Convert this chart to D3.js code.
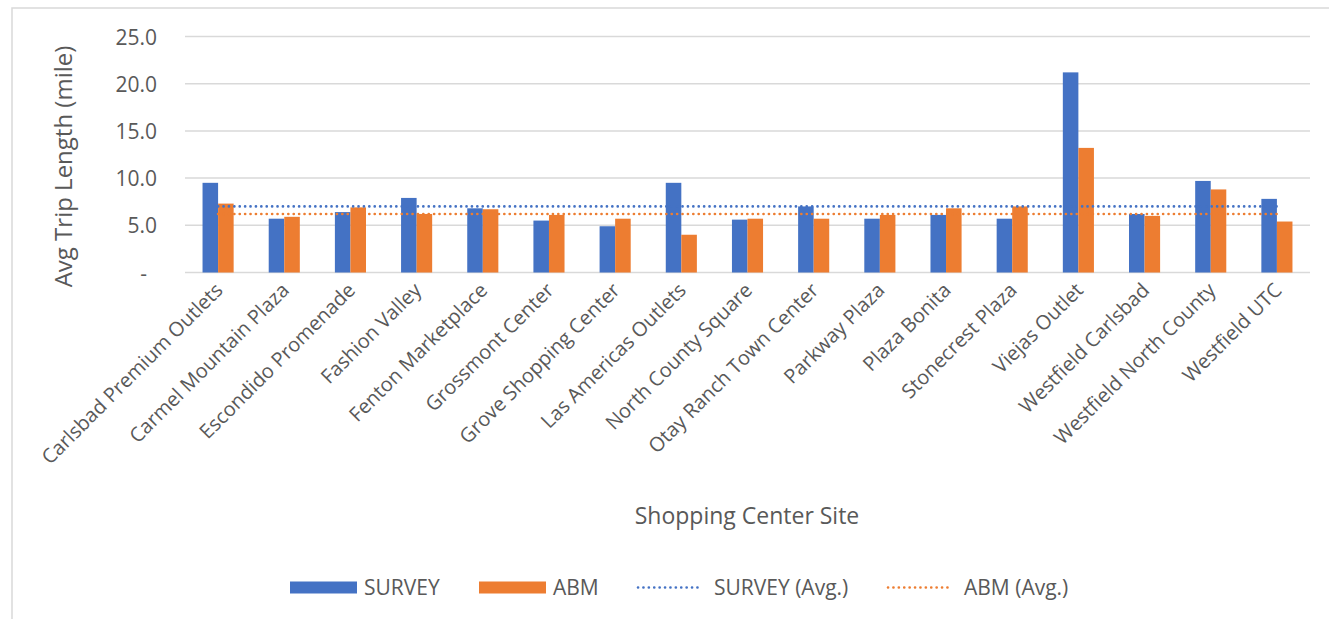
<!DOCTYPE html>
<meta charset="utf-8">
<head>
<style>
  body { margin: 0; background: #fff; }
  svg, svg text { font-family: 'Open Sans', sans-serif; }
  .grid line { stroke: #d9d9d9; stroke-width: 1.5px; }
  .tick text { fill: #595959; }
</style>
</head>
<body>
<svg width="1329" height="619"></svg>
<script src="https://d3js.org/d3.v7.min.js"></script>
<script>

// shopping center sites
var sites = ["Carlsbad Premium Outlets", "Carmel Mountain Plaza", "Escondido Promenade",
  "Fashion Valley", "Fenton Marketplace", "Grossmont Center", "Grove Shopping Center",
  "Las Americas Outlets", "North County Square", "Otay Ranch Town Center", "Parkway Plaza",
  "Plaza Bonita", "Stonecrest Plaza", "Viejas Outlet", "Westfield Carlsbad",
  "Westfield North County", "Westfield UTC"];

var survey = [9.5, 5.7, 6.4, 7.9, 6.8, 5.5, 4.9, 9.5, 5.6, 7.0, 5.7, 6.1, 5.7, 21.2, 6.2, 9.7, 7.8];
var abm    = [7.3, 5.9, 6.9, 6.2, 6.7, 6.1, 5.7, 4.0, 5.7, 5.7, 6.1, 6.8, 7.0, 13.2, 6.0, 8.8, 5.4];

// averages (drawn as flat dotted lines)
var surveyAvg = 7.0;
var abmAvg = 6.2;

var yTicks = [0, 5, 10, 15, 20, 25];

var svg = d3.select("svg");

// outer chart frame (only top + left edges show)
svg.append("rect")
  .attr("x", 12).attr("y", 8)
  .attr("width", 1340).attr("height", 640)
  .attr("fill", "none")
  .attr("stroke", "#d9d9d9")
  .attr("stroke-width", 1.5);

var plot = {left: 185, right: 1310, top: 36.5, bottom: 272.5};

var x = d3.scaleBand()
  .domain(sites)
  .range([plot.left, plot.right])
  .paddingInner(0.53)
  .paddingOuter(0.265);

var y = d3.scaleLinear()
  .domain([0, 25])
  .range([plot.bottom, plot.top]);

// gridlines
svg.append("g")
  .attr("class", "grid")
  .selectAll("line")
  .data(yTicks)
  .enter().append("line")
    .attr("x1", plot.left).attr("x2", plot.right)
    .attr("y1", d => y(d)).attr("y2", d => y(d));

// y axis labels
var yAxis = d3.axisLeft(y)
  .tickValues(yTicks)
  .tickSize(0)
  .tickPadding(0)
  .tickFormat(d => d === 0 ? "-" : d3.format(".1f")(d));

var yg = svg.append("g")
  .attr("transform", "translate(" + (plot.left - 28) + ",0)")
  .call(yAxis)
  .attr("font-family", null)
  .attr("font-size", null);
yg.select(".domain").remove();
yg.selectAll("text").style("font-size", "21px").attr("dy", "0.36em");
yg.selectAll(".tick").filter(d => d === 0).select("text").attr("dx", "-10");

svg.append("text")
  .attr("transform", "translate(72," + ((plot.top + plot.bottom) / 2 + 12) + ") rotate(-90)")
  .attr("text-anchor", "middle")
  .style("font-size", "24px")
  .style("fill", "#595959")
  .text("Avg Trip Length (mile)");

// bars
var half = x.bandwidth() / 2;

svg.append("g").selectAll("rect")
  .data(survey)
  .enter().append("rect")
    .attr("x", (d, i) => x(sites[i]))
    .attr("y", d => y(d))
    .attr("width", half)
    .attr("height", d => y(0) - y(d))
    .attr("fill", "#4472c4");

svg.append("g").selectAll("rect")
  .data(abm)
  .enter().append("rect")
    .attr("x", (d, i) => x(sites[i]) + half)
    .attr("y", d => y(d))
    .attr("width", half)
    .attr("height", d => y(0) - y(d))
    .attr("fill", "#ed7d31");

// average lines, first site center to last site center
var first = x(sites[0]) + half;
var last = x(sites[sites.length - 1]) + half;

function avgLine(v, color) {
  svg.append("line")
    .attr("x1", first).attr("x2", last)
    .attr("y1", y(v)).attr("y2", y(v))
    .attr("stroke", color)
    .attr("stroke-width", 2.6)
    .attr("stroke-linecap", "round")
    .attr("stroke-dasharray", "0.1 5.3");
}
avgLine(surveyAvg, "#4472c4");
avgLine(abmAvg, "#ed7d31");

// x labels (ticks already sit at band centers)
var xAxis = d3.axisBottom(x).tickSize(0).tickPadding(0);
var xg = svg.append("g")
  .attr("transform", "translate(0," + (plot.bottom + 19) + ")")
  .call(xAxis)
  .attr("font-family", null)
  .attr("font-size", null);
xg.select(".domain").remove();
xg.selectAll("text")
  .attr("dy", 0)
  .attr("y", 0)
  .attr("transform", "translate(6,0) rotate(-45)")
  .style("text-anchor", "end")
  .style("font-size", "20px");

svg.append("text")
  .attr("x", 747).attr("y", 524)
  .attr("text-anchor", "middle")
  .style("font-size", "23px")
  .style("fill", "#595959")
  .text("Shopping Center Site");

// legend
var legend = svg.append("g");
var items = [
  {label: "SURVEY", color: "#4472c4", type: "bar", x: 290},
  {label: "ABM", color: "#ed7d31", type: "bar", x: 479},
  {label: "SURVEY (Avg.)", color: "#4472c4", type: "line", x: 637},
  {label: "ABM (Avg.)", color: "#ed7d31", type: "line", x: 887}
];
items.forEach(function(it) {
  if (it.type === "bar") {
    legend.append("rect")
      .attr("x", it.x).attr("y", 581.5)
      .attr("width", 67).attr("height", 12)
      .attr("fill", it.color);
  } else {
    legend.append("line")
      .attr("x1", it.x + 1).attr("x2", it.x + 65)
      .attr("y1", 587.5).attr("y2", 587.5)
      .attr("stroke", it.color)
      .attr("stroke-width", 2.6)
      .attr("stroke-linecap", "round")
      .attr("stroke-dasharray", "0.1 5.3");
  }
  legend.append("text")
    .attr("x", it.x + (it.type === "bar" ? 74 : 77)).attr("y", 595)
    .style("font-size", "21px")
    .style("fill", "#595959")
    .text(it.label);
});

</script>
</body>
